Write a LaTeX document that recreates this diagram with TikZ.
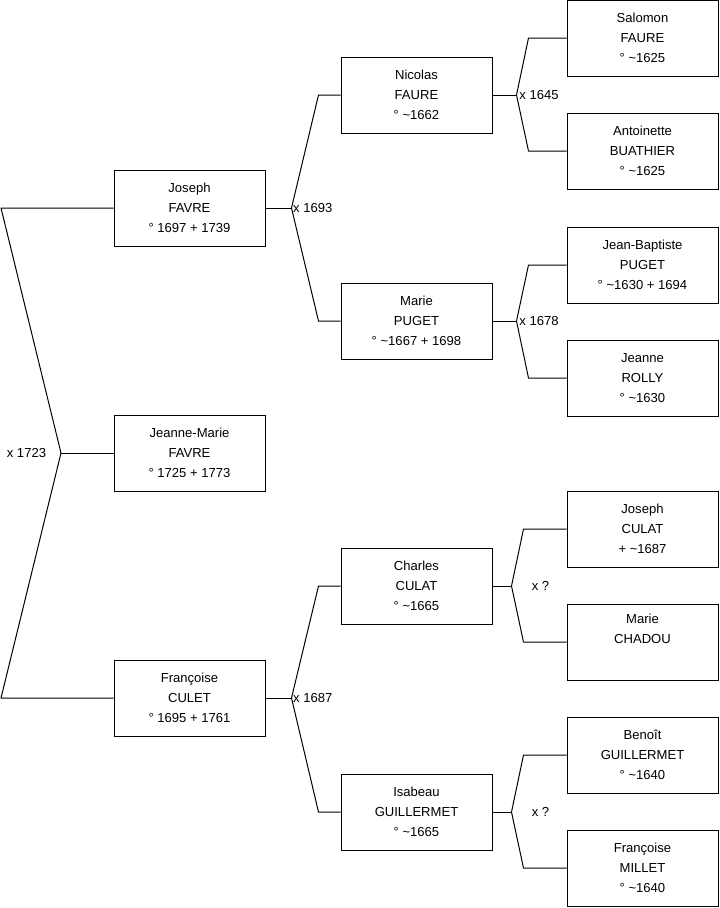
\documentclass[tikz,border=0pt]{standalone}
\usepackage{fontspec}
\setmainfont{Liberation Sans}
\usetikzlibrary{positioning}

\begin{document}
\begin{tikzpicture}[
    x=0.75pt, y=-0.75pt,
    person/.style={rectangle, draw, line width=0.75pt, minimum width=113.25pt, minimum height=57pt, align=center, inner sep=0pt, font=\fontsize{9.8}{15}\selectfont},
    link/.style={line width=0.75pt, line join=round},
    union/.style={inner sep=1pt, font=\fontsize{9.8}{11}\selectfont}
]
\useasboundingbox (0,0) rectangle (719,908);

% Column 1: child and parents
\node[person] (jfavre) at (189.5,208) {Joseph\\FAVRE\\° 1697 + 1739};
\node[person] (jmfavre) at (189.5,453) {Jeanne-Marie\\FAVRE\\° 1725 + 1773};
\node[person] (fculet) at (189.5,698) {Françoise\\CULET\\° 1695 + 1761};

% Column 2: grandparents
\node[person] (nfaure) at (416.5,95) {Nicolas\\FAURE\\° \textasciitilde1662};
\node[person] (mpuget) at (416.5,321) {Marie\\PUGET\\° \textasciitilde1667 + 1698};
\node[person] (cculat) at (416.5,586) {Charles\\CULAT\\° \textasciitilde1665};
\node[person] (iguillermet) at (416.5,812) {Isabeau\\GUILLERMET\\° \textasciitilde1665};

% Column 3: great-grandparents
\node[person] (sfaure) at (642.5,38) {Salomon\\FAURE\\° \textasciitilde1625};
\node[person] (abuathier) at (642.5,151) {Antoinette\\BUATHIER\\° \textasciitilde1625};
\node[person] (jbpuget) at (642.5,265) {Jean-Baptiste\\PUGET\\° \textasciitilde1630 + 1694};
\node[person] (jrolly) at (642.5,378) {Jeanne\\ROLLY\\° \textasciitilde1630};
\node[person] (jculat) at (642.5,529) {Joseph\\CULAT\\+ \textasciitilde1687};
\node[person] (mchadou) at (642.5,642) {Marie\\CHADOU\\\strut};
\node[person] (bguillermet) at (642.5,755) {Benoît\\GUILLERMET\\° \textasciitilde1640};
\node[person] (fmillet) at (642.5,868) {Françoise\\MILLET\\° \textasciitilde1640};

% Union x 1723
\coordinate (t1723) at (1,208);
\coordinate (b1723) at (1,698);
\coordinate (u1723) at (61,453);
\draw[link] (jfavre.west) -- (t1723) -- (u1723) -- (b1723) -- (fculet.west);
\draw[link] (u1723) -- (jmfavre.west);
\node[union, left=10pt of u1723] (l1723) {x 1723};

% Union x 1693
\coordinate (u1693) at ([xshift=19.5pt]jfavre.east);
\draw[link] (jfavre.east) -- (u1693);
\draw[link] (nfaure.west) -- ([xshift=-16.5pt]nfaure.west) -- (u1693) -- ([xshift=-16.5pt]mpuget.west) -- (mpuget.west);
\node[union, right=0pt of u1693] (l1693) {x 1693};

% Union x 1687
\coordinate (u1687) at ([xshift=19.5pt]fculet.east);
\draw[link] (fculet.east) -- (u1687);
\draw[link] (cculat.west) -- ([xshift=-16.5pt]cculat.west) -- (u1687) -- ([xshift=-16.5pt]iguillermet.west) -- (iguillermet.west);
\node[union, right=0pt of u1687] (l1687) {x 1687};

% Union x 1645
\coordinate (u1645) at ([xshift=18pt]nfaure.east);
\draw[link] (nfaure.east) -- (u1645);
\draw[link] (sfaure.west) -- ([xshift=-28.5pt]sfaure.west) -- (u1645) -- ([xshift=-28.5pt]abuathier.west) -- (abuathier.west);
\node[union, right=1pt of u1645] (l1645) {x 1645};

% Union x 1678
\coordinate (u1678) at ([xshift=18pt]mpuget.east);
\draw[link] (mpuget.east) -- (u1678);
\draw[link] (jbpuget.west) -- ([xshift=-28.5pt]jbpuget.west) -- (u1678) -- ([xshift=-28.5pt]jrolly.west) -- (jrolly.west);
\node[union, right=1pt of u1678] (l1678) {x 1678};

% Union x ? (Culat)
\coordinate (uculat) at ([xshift=14.25pt]cculat.east);
\draw[link] (cculat.east) -- (uculat);
\draw[link] (jculat.west) -- ([xshift=-32.25pt]jculat.west) -- (uculat) -- ([xshift=-32.25pt]mchadou.west) -- (mchadou.west);
\node[union, right=14pt of uculat] (lculat) {x ?};

% Union x ? (Guillermet)
\coordinate (uguil) at ([xshift=14.25pt]iguillermet.east);
\draw[link] (iguillermet.east) -- (uguil);
\draw[link] (bguillermet.west) -- ([xshift=-32.25pt]bguillermet.west) -- (uguil) -- ([xshift=-32.25pt]fmillet.west) -- (fmillet.west);
\node[union, right=14pt of uguil] (lguil) {x ?};

\end{tikzpicture}
\end{document}
